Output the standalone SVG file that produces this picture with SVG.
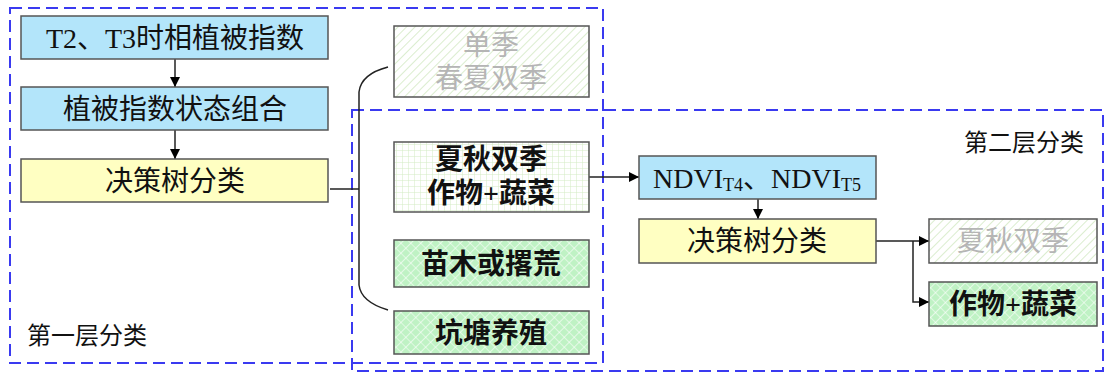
<svg xmlns="http://www.w3.org/2000/svg" width="1105" height="373" viewBox="0 0 1105 373">
<defs>
<pattern id="diag" width="6" height="6" patternUnits="userSpaceOnUse" patternTransform="rotate(45)">
<rect width="6" height="6" fill="#ffffff"/>
<line x1="0" y1="0" x2="0" y2="6" stroke="#cfe8bf" stroke-width="1.5"/>
</pattern>
<pattern id="grid" width="6" height="6" patternUnits="userSpaceOnUse">
<rect width="6" height="6" fill="#ffffff"/>
<path d="M0,0 H6 M0,0 V6" stroke="#d3ecc4" stroke-width="1"/>
</pattern>
<pattern id="cross" width="7" height="7" patternUnits="userSpaceOnUse" patternTransform="rotate(45)">
<rect width="7" height="7" fill="#bff2c4"/>
<path d="M0,0 H7 M0,0 V7" stroke="#ffffff" stroke-width="1.2"/>
</pattern>
<marker id="arr" viewBox="0 0 10 10" refX="10" refY="5" markerWidth="10" markerHeight="10" markerUnits="userSpaceOnUse" orient="auto">
<path d="M0,0 L10,5 L0,10 z" fill="#000"/>
</marker>
</defs>
<style>
.box{stroke:#555;stroke-width:1.5}
.blue{fill:#b3e5fa}
.yellow{fill:#ffffc2}
.t{font-family:"Liberation Serif","Noto Sans CJK SC",serif;font-size:28px;fill:#111;text-anchor:middle}
.b{font-weight:bold}
.g{fill:#b5b5b5}
.lbl{font-family:"Liberation Sans","Noto Sans CJK SC",sans-serif;font-size:24px;fill:#111}
.dash{fill:none;stroke:#3a3af0;stroke-width:2;stroke-dasharray:12,6}
.con{fill:none;stroke:#222;stroke-width:1.5}
</style>
<g id="frames">
<rect class="dash" x="10" y="8" width="593" height="355"/>
<rect class="dash" x="352" y="110" width="751" height="261"/>
<text class="lbl" x="27" y="344">第一层分类</text>
<text class="lbl" x="964" y="151">第二层分类</text>
</g>
<g id="connectors">
<line class="con" x1="175" y1="59" x2="175" y2="87" marker-end="url(#arr)"/>
<line class="con" x1="175" y1="130" x2="175" y2="159" marker-end="url(#arr)"/>
<line class="con" x1="330" y1="189" x2="359" y2="189" stroke-width="2"/>
<path class="con" d="M388,67 Q361,74 359,92 L359,285 Q361,302 388,310" stroke-width="2.5"/>
<line class="con" x1="589" y1="177" x2="639" y2="177" marker-end="url(#arr)"/>
<line class="con" x1="758" y1="199" x2="758" y2="219" marker-end="url(#arr)"/>
<line class="con" x1="876" y1="241" x2="929" y2="241" marker-end="url(#arr)"/>
<polyline class="con" points="913,241 913,302 929,302" marker-end="url(#arr)"/>
</g>
<g id="n1">
<rect class="box blue" x="21" y="16" width="307" height="43"/>
<text class="t" x="175" y="48">T2、T3时相植被指数</text>
</g>
<g id="n2">
<rect class="box blue" x="21" y="87" width="307" height="43"/>
<text class="t" x="175" y="119">植被指数状态组合</text>
</g>
<g id="n3">
<rect class="box yellow" x="21" y="159" width="307" height="43"/>
<text class="t" x="175" y="191">决策树分类</text>
</g>
<g id="n4">
<rect class="box" x="394" y="26" width="195" height="71" fill="url(#diag)"/>
<text class="t g" x="491" y="55">单季</text>
<text class="t g" x="491" y="88">春夏双季</text>
</g>
<g id="n5">
<rect class="box" x="394" y="142" width="195" height="70" fill="url(#grid)"/>
<text class="t b" x="491" y="169">夏秋双季</text>
<text class="t b" x="491" y="203">作物+蔬菜</text>
</g>
<g id="n6">
<rect class="box" x="394" y="240" width="195" height="47" fill="url(#cross)"/>
<text class="t b" x="491" y="274">苗木或撂荒</text>
</g>
<g id="n7">
<rect class="box" x="394" y="311" width="195" height="43" fill="url(#cross)"/>
<text class="t b" x="491" y="343">坑塘养殖</text>
</g>
<g id="n8">
<rect class="box blue" x="639" y="156" width="237" height="43"/>
<text class="t" x="757" y="188">NDVI<tspan font-size="18" dy="3">T4</tspan><tspan dy="-3">、NDVI</tspan><tspan font-size="18" dy="3">T5</tspan></text>
</g>
<g id="n9">
<rect class="box yellow" x="639" y="219" width="237" height="44"/>
<text class="t" x="757" y="251">决策树分类</text>
</g>
<g id="n10">
<rect class="box" x="929" y="219" width="168" height="44" fill="url(#diag)"/>
<text class="t g" x="1013" y="251">夏秋双季</text>
</g>
<g id="n11">
<rect class="box" x="929" y="282" width="168" height="44" fill="url(#cross)"/>
<text class="t b" x="1013" y="314">作物+蔬菜</text>
</g>
</svg>
